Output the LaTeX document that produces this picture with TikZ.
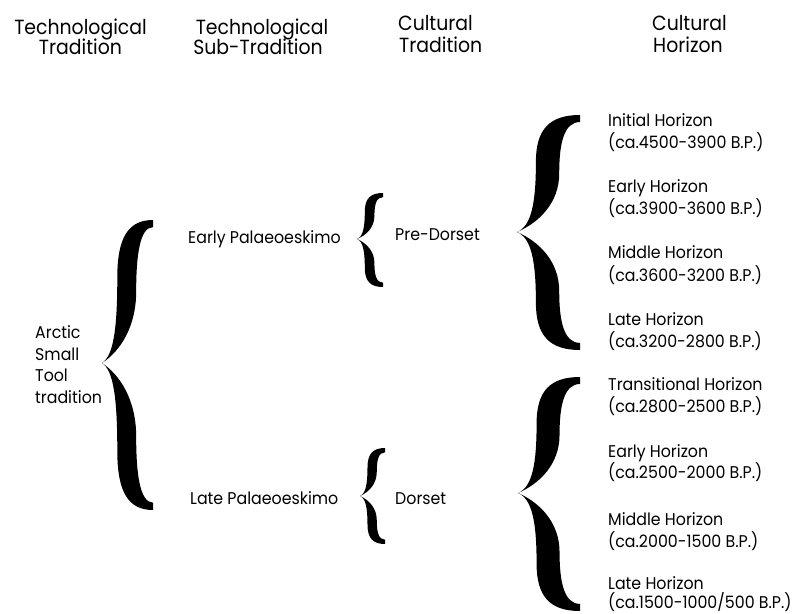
\documentclass[tikz,border=0pt]{standalone}
\usepackage{fontspec}
\setmainfont{Poppins}
\newfontfamily\headfont[FakeStretch=0.92]{Poppins}
\newfontfamily\bodyfont[FakeStretch=0.93]{Poppins}
% one arm of a curly brace, end at (1,0), tip at (0,1); #1 = thickness of the blunt end
\newcommand\armshape[1]{(1,0) .. controls (0.52,0) and (0.3,0.12) .. (0.3,0.4)
  .. controls (0.3,0.75) and (0.23,0.95) .. (0,1)
  .. controls (0.35,0.92) and (0.67,0.75) .. (0.67,0.5)
  .. controls (0.67,0.25) and (0.74,#1) .. (1,#1) -- cycle}
% filled brace: #1 x of ends, #2 x of tip, #3 y top, #4 y tip, #5 y bottom, #6 end thickness
\newcommand\curlybrace[6]{%
  \begin{scope}[shift={(#2,#3)},xscale={#1-#2},yscale={#4-#3}]
    \fill \armshape{#6};
  \end{scope}
  \begin{scope}[shift={(#2,#5)},xscale={#1-#2},yscale={#4-#5}]
    \fill \armshape{#6};
  \end{scope}}
\begin{document}
\begin{tikzpicture}[x=1pt,y=-1pt,
  txt/.style={inner sep=0pt,anchor=base west,font=\bodyfont\fontsize{17}{20}\selectfont},
  hdr/.style={inner sep=0pt,anchor=base,font=\headfont\fontsize{20.5}{24}\selectfont},
  hdrl/.style={hdr,anchor=base west}]
\fill[white] (0,0) rectangle (811,613);
\useasboundingbox (0,0) rectangle (811,613);

% column headings
\node[hdr]  (h1a) at (80.5,34) {Technological};
\node[hdr]  (h1b) at (80.5,54) {Tradition};
\node[hdr]  (h2a) at (262,34)  {Technological};
\node[hdr]  (h2b) at (258,54)  {Sub-Tradition};
\node[hdrl] (h3a) at (398,30)  {Cultural};
\node[hdrl] (h3b) at (399,52)  {Tradition};
\node[hdrl] (h4a) at (652,30)  {Cultural};
\node[hdrl] (h4b) at (653,52)  {Horizon};

% technological tradition
\node[txt] (asti1) at (35,338)   {Arctic};
\node[txt] (asti2) at (35,360)   {Small};
\node[txt] (asti3) at (35,381.5) {Tool};
\node[txt] (asti4) at (35,403)   {tradition};

% sub-traditions and cultural traditions
\node[txt] (early) at (188,243) {Early Palaeoeskimo};
\node[txt] (late)  at (190,504) {Late Palaeoeskimo};
\node[txt] (pre)   at (395,240) {Pre-Dorset};
\node[txt] (dor)   at (395,504) {Dorset};

% horizons of the Pre-Dorset
\node[txt] (pd1a) at (608,126) {Initial Horizon};
\node[txt] (pd1b) at (608,148) {(ca.4500-3900 B.P.)};
\node[txt] (pd2a) at (608,192) {Early Horizon};
\node[txt] (pd2b) at (608,214) {(ca.3900-3600 B.P.)};
\node[txt] (pd3a) at (608,258) {Middle Horizon};
\node[txt] (pd3b) at (608,281) {(ca.3600-3200 B.P.)};
\node[txt] (pd4a) at (608,325) {Late Horizon};
\node[txt] (pd4b) at (608,347) {(ca.3200-2800 B.P.)};
% horizons of the Dorset
\node[txt] (d1a) at (608,390) {Transitional Horizon};
\node[txt] (d1b) at (608,412) {(ca.2800-2500 B.P.)};
\node[txt] (d2a) at (608,457) {Early Horizon};
\node[txt] (d2b) at (608,478) {(ca.2500-2000 B.P.)};
\node[txt] (d3a) at (608,525) {Middle Horizon};
\node[txt] (d3b) at (608,547) {(ca.2000-1500 B.P.)};
\node[txt] (d4a) at (608,589) {Late Horizon};
\node[txt] (d4b) at (608,608.5) {(ca.1500-1000/500 B.P.)};

% braces
\curlybrace{153}{102}{220}{363}{510}{0.05}
\curlybrace{383}{357}{193}{239}{287}{0.09}
\curlybrace{385}{360}{448}{496}{544}{0.09}
\curlybrace{580}{517}{115}{232}{350}{0.06}
\curlybrace{580}{518}{377}{493}{611}{0.06}
\end{tikzpicture}
\end{document}
